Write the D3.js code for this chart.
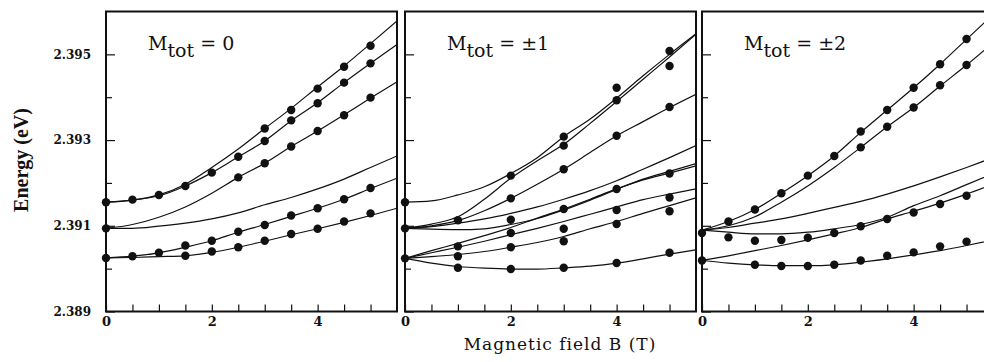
<!DOCTYPE html>
<html>
<head>
<meta charset="utf-8">
<script src="https://cdn.jsdelivr.net/npm/d3@7"></script>
<style>
  html, body { margin: 0; padding: 0; background: #fff; }
  svg { display: block; }
</style>
</head>
<body>
<svg id="chart" width="984" height="362"></svg>
<script>
// Magnetic field grid (T) on which the calculated levels are tabulated
const fieldGrid = [0, 0.5, 1, 1.5, 2, 2.5, 3, 3.5, 4, 4.5, 5, 5.5];
const energyTicks = [2.389, 2.391, 2.393, 2.395];
const energyMinorTicks = [2.390, 2.392, 2.394];
const fieldTicks = [0, 2, 4];
const fieldMinorTicks = [0.5, 1, 1.5, 2.5, 3, 3.5, 4.5, 5];
const panelLabels = ["0", "\u00b11", "\u00b12"];

// Calculated levels, M_tot = 0 (eV, one value per fieldGrid point)
const levelsM0 = [
  [2.39155, 2.39160, 2.39172, 2.39197, 2.39236, 2.39279, 2.39327, 2.39374, 2.39424, 2.39473, 2.39525, 2.39578],
  [2.39155, 2.39160, 2.39170, 2.39193, 2.39224, 2.39261, 2.39298, 2.39345, 2.39387, 2.39434, 2.39479, 2.39523],
  [2.39094, 2.39103, 2.39120, 2.39144, 2.39176, 2.39213, 2.39246, 2.39285, 2.39321, 2.39359, 2.39398, 2.39436],
  [2.39094, 2.39094, 2.39099, 2.39106, 2.39116, 2.39130, 2.39149, 2.39166, 2.39186, 2.39209, 2.39236, 2.39263],
  [2.39025, 2.39029, 2.39037, 2.39050, 2.39065, 2.39085, 2.39103, 2.39122, 2.39141, 2.39162, 2.39187, 2.39211],
  [2.39025, 2.39026, 2.39028, 2.39030, 2.39038, 2.39050, 2.39064, 2.39079, 2.39093, 2.39108, 2.39124, 2.39141]
];
// Measured lines, M_tot = 0: [B (T), E (eV)]
const pointsM0 = [
  [0, 2.39155], [0, 2.39094], [0, 2.39025],
  [0.5, 2.39161], [0.5, 2.39029],
  [1, 2.39172], [1, 2.39037],
  [1.5, 2.39193], [1.5, 2.39054], [1.5, 2.39030],
  [2, 2.39224], [2, 2.39065], [2, 2.39040],
  [2.5, 2.39261], [2.5, 2.39213], [2.5, 2.39086], [2.5, 2.39050],
  [3, 2.39327], [3, 2.39298], [3, 2.39246], [3, 2.39102], [3, 2.39065],
  [3.5, 2.39370], [3.5, 2.39346], [3.5, 2.39285], [3.5, 2.39124], [3.5, 2.39081],
  [4, 2.39420], [4, 2.39386], [4, 2.39321], [4, 2.39141], [4, 2.39093],
  [4.5, 2.39471], [4.5, 2.39434], [4.5, 2.39358], [4.5, 2.39162], [4.5, 2.39110],
  [5, 2.39520], [5, 2.39479], [5, 2.39399], [5, 2.39188], [5, 2.39129]
];

// Calculated levels, M_tot = ±1
const levelsM1 = [
  [2.39155, 2.39158, 2.39172, 2.39191, 2.39222, 2.39259, 2.39308, 2.39349, 2.39398, 2.39450, 2.39500, 2.39548],
  [2.39094, 2.39104, 2.39121, 2.39162, 2.39211, 2.39252, 2.39290, 2.39339, 2.39390, 2.39442, 2.39494, 2.39547],
  [2.39094, 2.39100, 2.39112, 2.39135, 2.39164, 2.39197, 2.39232, 2.39271, 2.39310, 2.39343, 2.39376, 2.39407],
  [2.39094, 2.39098, 2.39106, 2.39116, 2.39129, 2.39144, 2.39162, 2.39182, 2.39205, 2.39232, 2.39259, 2.39287],
  [2.39094, 2.39092, 2.39091, 2.39093, 2.39103, 2.39117, 2.39137, 2.39160, 2.39185, 2.39209, 2.39227, 2.39245],
  [2.39024, 2.39042, 2.39059, 2.39077, 2.39096, 2.39118, 2.39139, 2.39162, 2.39186, 2.39207, 2.39223, 2.39240],
  [2.39024, 2.39037, 2.39050, 2.39064, 2.39079, 2.39094, 2.39110, 2.39127, 2.39144, 2.39161, 2.39174, 2.39186],
  [2.39024, 2.39028, 2.39033, 2.39040, 2.39050, 2.39061, 2.39075, 2.39093, 2.39110, 2.39129, 2.39147, 2.39165],
  [2.39024, 2.39013, 2.39005, 2.39001, 2.38999, 2.38999, 2.39002, 2.39006, 2.39013, 2.39023, 2.39034, 2.39044]
];
const pointsM1 = [
  [0, 2.39155], [0, 2.39094], [0, 2.39024],
  [1, 2.39113], [1, 2.39052], [1, 2.39029], [1, 2.39002],
  [2, 2.39217], [2, 2.39164], [2, 2.39114], [2, 2.39083], [2, 2.39050], [2, 2.38999],
  [3, 2.39308], [3, 2.39287], [3, 2.39232], [3, 2.39139], [3, 2.39093], [3, 2.39064], [3, 2.39002],
  [4, 2.39422], [4, 2.39393], [4, 2.39310], [4, 2.39186], [4, 2.39137], [4, 2.39104], [4, 2.39013],
  [5, 2.39508], [5, 2.39473], [5, 2.39377], [5, 2.39222], [5, 2.39166], [5, 2.39134], [5, 2.39037]
];

// Calculated levels, M_tot = ±2
const levelsM2 = [
  [2.39090, 2.39110, 2.39138, 2.39176, 2.39217, 2.39263, 2.39318, 2.39370, 2.39422, 2.39477, 2.39535, 2.39593],
  [2.39090, 2.39100, 2.39121, 2.39155, 2.39193, 2.39236, 2.39283, 2.39331, 2.39376, 2.39426, 2.39475, 2.39527],
  [2.39090, 2.39096, 2.39106, 2.39116, 2.39129, 2.39143, 2.39157, 2.39174, 2.39193, 2.39214, 2.39236, 2.39259],
  [2.39090, 2.39085, 2.39081, 2.39081, 2.39085, 2.39093, 2.39103, 2.39120, 2.39147, 2.39170, 2.39196, 2.39222],
  [2.39019, 2.39030, 2.39042, 2.39054, 2.39067, 2.39081, 2.39096, 2.39116, 2.39134, 2.39153, 2.39174, 2.39197],
  [2.39019, 2.39013, 2.39009, 2.39007, 2.39007, 2.39009, 2.39015, 2.39023, 2.39032, 2.39042, 2.39054, 2.39067]
];
const pointsM2 = [
  [0, 2.39083], [0, 2.39019],
  [0.5, 2.39110], [1, 2.39138], [1.5, 2.39176], [2, 2.39217], [2.5, 2.39263],
  [3, 2.39320], [3.5, 2.39370], [4, 2.39422], [4.5, 2.39477], [5, 2.39536],
  [3, 2.39283], [3.5, 2.39331], [4, 2.39376], [4.5, 2.39428], [5, 2.39475],
  [0.5, 2.39073], [1, 2.39065], [1.5, 2.39067], [2, 2.39072], [2.5, 2.39083],
  [3, 2.39099], [3.5, 2.39116], [4, 2.39131], [4.5, 2.39151], [5, 2.39170],
  [1, 2.39009], [1.5, 2.39006], [2, 2.39006], [2.5, 2.39009],
  [3, 2.39019], [3.5, 2.39030], [4, 2.39038], [4.5, 2.39052], [5, 2.39063]
];

const panelLevels = [levelsM0, levelsM1, levelsM2];
const panelPoints = [pointsM0, pointsM1, pointsM2];

// ---- layout ----
const panelLeft = [106, 405, 702];
const panelWidth = 291;
const plotTop = 11.5, plotBottom = 311.5;
const ink = "#111";
const serif = "'DejaVu Serif', 'Liberation Serif', serif";

const svg = d3.select("#chart");

const y = d3.scaleLinear().domain([2.389, 2.396]).range([plotBottom, plotTop]);

panelLabels.forEach((label, i) => {
  const left = panelLeft[i];
  const x = d3.scaleLinear().domain([0, 5.5]).range([left, left + panelWidth]);
  const g = svg.append("g");

  const clipId = "clip" + i;
  svg.append("clipPath").attr("id", clipId)
    .append("rect")
    .attr("x", left).attr("y", plotTop)
    .attr("width", panelWidth).attr("height", plotBottom - plotTop);

  // calculated levels
  const line = d3.line()
    .x((d, k) => x(fieldGrid[k]))
    .y(d => y(d))
    .curve(d3.curveMonotoneX);
  g.append("g").attr("clip-path", `url(#${clipId})`)
    .selectAll("path").data(panelLevels[i]).join("path")
    .attr("d", line)
    .attr("fill", "none")
    .attr("stroke", ink)
    .attr("stroke-width", 1.2);

  // measured points
  g.append("g")
    .selectAll("circle").data(panelPoints[i]).join("circle")
    .attr("cx", d => x(d[0]))
    .attr("cy", d => y(d[1]))
    .attr("r", 4.2)
    .attr("fill", ink);

  // y ticks (inward)
  const yAxis = g.append("g").attr("transform", `translate(${left},0)`)
    .call(d3.axisLeft(y).tickValues(energyTicks).tickSize(-9).tickPadding(15)
      .tickFormat(i === 0 ? d3.format(".3f") : () => ""));
  const yMinor = g.append("g").attr("transform", `translate(${left},0)`)
    .call(d3.axisLeft(y).tickValues(energyMinorTicks).tickSize(-6).tickFormat(() => ""));

  // x ticks (inward)
  const xAxis = g.append("g").attr("transform", `translate(0,${plotBottom})`)
    .call(d3.axisBottom(x).tickValues(fieldTicks).tickSize(-7).tickPadding(5)
      .tickFormat(d3.format("d")));
  const xMinor = g.append("g").attr("transform", `translate(0,${plotBottom})`)
    .call(d3.axisBottom(x).tickValues(fieldMinorTicks).tickSize(-7).tickFormat(() => ""));

  [yAxis, yMinor, xAxis, xMinor].forEach(a => {
    a.select(".domain").remove();
    a.selectAll("line").attr("stroke", ink).attr("stroke-width", 1.2);
    a.selectAll("text")
      .attr("fill", ink)
      .attr("font-family", serif)
      .attr("font-weight", "bold")
      .attr("font-size", 12);
  });
  xAxis.selectAll("text").attr("font-size", 13);

  // frame
  g.append("rect")
    .attr("x", left).attr("y", plotTop)
    .attr("width", panelWidth).attr("height", plotBottom - plotTop)
    .attr("fill", "none").attr("stroke", ink).attr("stroke-width", 2);

  // panel label
  const t = g.append("text")
    .attr("x", x(0) + 42).attr("y", 50)
    .attr("font-family", serif).attr("font-size", 19).attr("fill", ink);
  t.append("tspan").text("M");
  t.append("tspan").attr("dy", 7).text("tot");
  t.append("tspan").attr("dy", -7).text(" = " + label);
});

// axis titles
svg.append("text")
  .attr("transform", "translate(28,160) rotate(-90)")
  .attr("text-anchor", "middle")
  .attr("font-family", "'Liberation Serif', serif")
  .attr("font-weight", "bold")
  .attr("font-size", 20)
  .attr("fill", ink)
  .text("Energy (eV)");

svg.append("text")
  .attr("x", 560).attr("y", 350)
  .attr("text-anchor", "middle")
  .attr("font-family", serif)
  .attr("font-size", 17)
  .attr("letter-spacing", 1)
  .attr("fill", ink)
  .text("Magnetic field B (T)");
</script>
</body>
</html>
